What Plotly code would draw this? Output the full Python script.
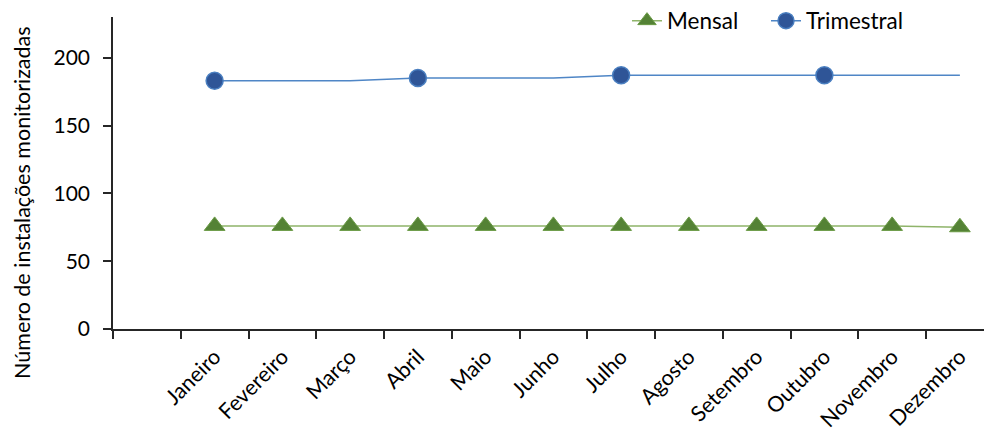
import plotly.graph_objects as go

# Category slots: a blank leading slot followed by the twelve months
slots = [" ", "Janeiro", "Fevereiro", "Março", "Abril", "Maio", "Junho",
         "Julho", "Agosto", "Setembro", "Outubro", "Novembro", "Dezembro"]
months = slots[1:]

mensal = [76, 76, 76, 76, 76, 76, 76, 76, 76, 76, 76, 75]
trimestral = [183, 183, 183, 185, 185, 185, 187, 187, 187, 187, 187, 187]
# campaigns where the quarterly count is actually measured
trimestral_measured = [True, False, False, True, False, False,
                       True, False, False, True, False, False]

y_title = "Número de instalações monitorizadas"

font_family = "Lato, 'Open Sans', sans-serif"
blue_fill = "#2f5597"
blue_edge = "#4a7fc0"
clear = "rgba(0,0,0,0)"

fig = go.Figure()

fig.add_trace(go.Scatter(
    x=months, y=mensal, name="Mensal", mode="lines+markers",
    line=dict(color="#8fb46a", width=1.5),
    marker=dict(symbol="triangle-up", size=18, color="#548235",
                line=dict(color="#6a9a45", width=1)),
))

fig.add_trace(go.Scatter(
    x=months, y=trimestral, name="Trimestral", mode="lines+markers",
    line=dict(color="#4f86c6", width=1.5),
    marker=dict(symbol="circle", size=17,
                color=[blue_fill if m else clear for m in trimestral_measured],
                line=dict(color=[blue_edge if m else clear for m in trimestral_measured],
                          width=1.5)),
))

plot_left, plot_top, plot_bottom = 113, 17, 105
width, height = 984, 434
plot_w = width - plot_left
plot_h = height - plot_top - plot_bottom
slot_px = 67.75
x_right = plot_w / slot_px - 0.5

fig.add_annotation(
    text=y_title, textangle=-90, showarrow=False,
    xref="paper", yref="paper",
    x=(22 - plot_left) / plot_w, y=(height - plot_bottom - 203) / plot_h,
    xanchor="center", yanchor="middle", font=dict(size=21.5),
)

fig.update_layout(
    width=width, height=height,
    margin=dict(l=plot_left, r=0, t=plot_top, b=plot_bottom, autoexpand=False),
    paper_bgcolor="white", plot_bgcolor="white",
    font=dict(family=font_family, color="#000000", size=21),
    showlegend=True,
    legend=dict(orientation="h", x=(627 - plot_left) / plot_w, xanchor="left",
                y=(height - plot_bottom - 21) / plot_h, yanchor="middle",
                font=dict(size=22.5), bgcolor="rgba(0,0,0,0)", traceorder="normal",
                entrywidth=94),
    xaxis=dict(
        type="category", categoryorder="array", categoryarray=slots,
        range=[-0.5, x_right], tickson="boundaries", automargin=False,
        showline=True, linecolor="#262626", linewidth=1.5,
        ticks="outside", ticklen=8, tickwidth=1.5, tickcolor="#262626",
        tickangle=-45, tickfont=dict(size=21.5), ticklabelstandoff=5,
        showgrid=False, zeroline=False,
    ),
    yaxis=dict(
        range=[0, 230], tickvals=[0, 50, 100, 150, 200], automargin=False,
        showline=True, linecolor="#262626", linewidth=1.5,
        ticks="outside", ticklen=8, tickwidth=1.5, tickcolor="#262626",
        tickfont=dict(size=21), ticklabelstandoff=9,
        showgrid=False, zeroline=False,
    ),
)

fig.write_html("out.html")
